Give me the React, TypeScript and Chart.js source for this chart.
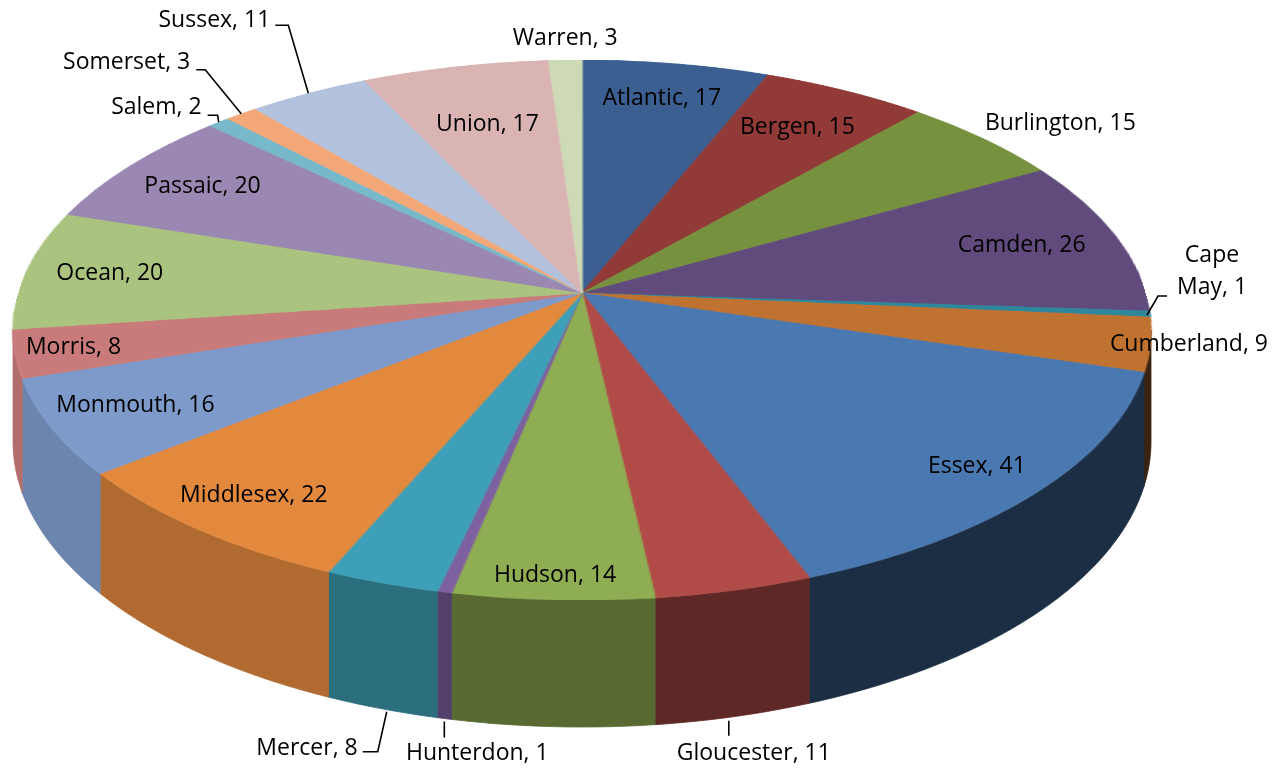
import React, { useEffect, useRef } from "react";
import { Chart, registerables } from "chart.js";

Chart.register(...registerables);

// ---------- data ----------
const counties = [
  "Atlantic", "Bergen", "Burlington", "Camden", "Cape May", "Cumberland", "Essex",
  "Gloucester", "Hudson", "Hunterdon", "Mercer", "Middlesex", "Monmouth", "Morris",
  "Ocean", "Passaic", "Salem", "Somerset", "Sussex", "Union", "Warren",
];
const counts = [17, 15, 15, 26, 1, 9, 41, 11, 14, 1, 8, 22, 16, 8, 20, 20, 2, 3, 11, 17, 3];
const sliceColors = [
  "#3B5F91", "#923A38", "#77923F", "#614A7C", "#2F879C", "#C07231", "#4A78B0",
  "#B14B48", "#8FAD52", "#7D60A0", "#3EA0B8", "#E3893E", "#7D9ACB", "#C87B7A",
  "#AAC47F", "#9A87B2", "#78B8CB", "#F4A877", "#B3C2DC", "#DAB3B3", "#CED9B5",
];

// ---------- layout (3D view) ----------
const VIEW = { cx: 582, apexY: 293, backY: 60, frontY: 600, halfWidth: 569, frontDepth: 127 };
const FONT = "23px 'Open Sans', Lato, sans-serif";

type LabelSpec =
  | { mode: "in"; r: number }
  | { mode: "out"; gapX: number; gapY: number }
  | {
      mode: "leader";
      from: "top" | "bottom";
      path: [number, number][];
      text: [number, number];
      align: CanvasTextAlign;
      wrap?: boolean;
    };

const labelSpecs: Record<string, LabelSpec> = {
  Atlantic: { mode: "in", r: 0.83 },
  Bergen: { mode: "in", r: 0.8 },
  Burlington: { mode: "out", gapX: 1, gapY: 4 },
  Camden: { mode: "in", r: 0.82 },
  "Cape May": { mode: "leader", from: "top", path: [[-3, 1], [8, -18], [17, -18]], text: [62, -43], align: "center", wrap: true },
  Cumberland: { mode: "out", gapX: 4, gapY: 0 },
  Essex: { mode: "in", r: 0.88 },
  Gloucester: { mode: "leader", from: "bottom", path: [[-5, 4], [-5, 19]], text: [20, 37], align: "center" },
  Hudson: { mode: "in", r: 0.93 },
  Hunterdon: { mode: "leader", from: "bottom", path: [[0, 3], [0, 19]], text: [33, 35], align: "center" },
  Mercer: { mode: "leader", from: "bottom", path: [[5, 3], [-4, 43], [-19, 43]], text: [-24, 40], align: "right" },
  Middlesex: { mode: "in", r: 0.87 },
  Monmouth: { mode: "in", r: 0.85 },
  Morris: { mode: "in", r: 0.9 },
  Ocean: { mode: "in", r: 0.85 },
  Passaic: { mode: "in", r: 0.83 },
  Salem: { mode: "leader", from: "top", path: [[0, 0], [-1, -7], [-11, -7]], text: [-17, -15], align: "right" },
  Somerset: { mode: "leader", from: "top", path: [[0, 0], [-36, -44], [-45, -44]], text: [-51, -51], align: "right" },
  Sussex: { mode: "leader", from: "top", path: [[0, 0], [-20, -68], [-33, -68]], text: [-38, -73], align: "right" },
  Union: { mode: "in", r: 0.72 },
  Warren: { mode: "out", gapX: 0, gapY: 10 },
};

// perspective projection of the unit disc onto the page
const pc = (2 * VIEW.apexY - VIEW.frontY - VIEW.backY) / (VIEW.frontY - VIEW.backY);
const pa = VIEW.frontY * (1 + pc) - VIEW.apexY;
const pd = VIEW.halfWidth * Math.sqrt(1 - pc * pc);
const depth0 = VIEW.frontDepth * (1 + pc);
const silhouette = Math.asin(-pc);

function proj(u: number, v: number) {
  const w = 1 + pc * v;
  return { x: VIEW.cx + (pd * u) / w, y: (pa * v + VIEW.apexY) / w, w };
}

function hexToRgb(h: string) {
  const n = parseInt(h.slice(1), 16);
  return [(n >> 16) & 255, (n >> 8) & 255, n & 255];
}
function shade(h: string, f: number) {
  const [r, g, b] = hexToRgb(h);
  return `rgb(${Math.round(r * f)},${Math.round(g * f)},${Math.round(b * f)})`;
}

const pie3d = {
  id: "pie3d",
  afterDatasetsDraw(chart: any) {
    const ctx: CanvasRenderingContext2D = chart.ctx;
    const W = chart.width;
    const meta = chart.getDatasetMeta(0);
    const els = meta.data;
    if (!els.length) return;
    const first = els[0];
    const x0 = first.x;
    const y0 = first.y;
    const R = first.outerRadius;

    // copy the flat pie drawn by Chart.js
    const off = document.createElement("canvas");
    off.width = chart.canvas.width;
    off.height = chart.canvas.height;
    const octx = off.getContext("2d")!;
    octx.drawImage(chart.canvas, 0, 0);

    ctx.save();
    ctx.setTransform(1, 0, 0, 1, 0, 0);
    ctx.clearRect(0, 0, chart.canvas.width, chart.canvas.height);
    ctx.restore();

    // side walls (visible between the two silhouette generators)
    ctx.save();
    els.forEach((el: any, i: number) => {
      const s = Math.max(el.startAngle, silhouette);
      const e = Math.min(el.endAngle, Math.PI - silhouette);
      if (e <= s) return;
      const midA = (s + e) / 2;
      const f = 0.6 - 0.3 * Math.cos(midA);
      const col = shade(sliceColors[i], f);
      const n = Math.max(2, Math.ceil((e - s) / 0.01));
      const top: { x: number; y: number; w: number }[] = [];
      for (let k = 0; k <= n; k++) {
        const ang = s + ((e - s) * k) / n;
        top.push(proj(Math.cos(ang), Math.sin(ang)));
      }
      ctx.beginPath();
      top.forEach((p, k) => (k ? ctx.lineTo(p.x, p.y) : ctx.moveTo(p.x, p.y)));
      for (let k = top.length - 1; k >= 0; k--) {
        const p = top[k];
        ctx.lineTo(p.x, p.y + depth0 / p.w);
      }
      ctx.closePath();
      ctx.fillStyle = col;
      ctx.strokeStyle = col;
      ctx.lineWidth = 0.8;
      ctx.fill();
      ctx.stroke();
    });
    ctx.restore();

    // top face: perspective warp, row by row
    ctx.save();
    ctx.imageSmoothingEnabled = true;
    for (let r = Math.floor(VIEW.backY) - 2; r <= Math.ceil(VIEW.frontY) + 2; r++) {
      const y = r + 0.5;
      const v = (y - VIEW.apexY) / (pa - pc * y);
      if (v < -1 || v > 1) continue;
      const w = 1 + pc * v;
      const half = pd / w;
      const sy = y0 + v * R - 0.5;
      ctx.drawImage(off, x0 - R, sy, 2 * R, 1, VIEW.cx - half, r, 2 * half, 1);
    }
    ctx.restore();

    // labels
    ctx.save();
    ctx.font = FONT;
    ctx.fillStyle = "#000";
    ctx.strokeStyle = "#000";
    ctx.lineWidth = 1.6;
    els.forEach((el: any, i: number) => {
      const name = chart.data.labels[i];
      const text = `${name}, ${chart.data.datasets[0].data[i]}`;
      const spec = labelSpecs[name];
      const mid = (el.startAngle + el.endAngle) / 2;
      const u = Math.cos(mid);
      const v = Math.sin(mid);
      if (!spec || spec.mode === "in") {
        const rr = spec ? spec.r : 0.8;
        const p = proj(rr * u, rr * v);
        ctx.textAlign = "center";
        ctx.textBaseline = "middle";
        ctx.fillText(text, p.x, p.y);
      } else if (spec.mode === "out") {
        const p = proj(u, v);
        const tw = ctx.measureText(text).width;
        let left: number;
        if (u > 0.3) left = p.x + spec.gapX;
        else if (u < -0.3) left = p.x - spec.gapX - tw;
        else left = p.x - tw / 2;
        if (left + tw > W - 6) left = W - 6 - tw;
        if (left < 6) left = 6;
        let y: number;
        ctx.textAlign = "left";
        if (v < -0.3) {
          ctx.textBaseline = "bottom";
          y = p.y - spec.gapY;
        } else if (v > 0.3) {
          ctx.textBaseline = "top";
          y = p.y + spec.gapY;
        } else {
          ctx.textBaseline = "middle";
          y = p.y;
        }
        ctx.fillText(text, left, y);
      } else {
        const p = proj(u, v);
        const ax = p.x;
        const ay = spec.from === "top" ? p.y : p.y + depth0 / p.w;
        ctx.beginPath();
        spec.path.forEach(([dx, dy], k) => {
          if (k) ctx.lineTo(ax + dx, ay + dy);
          else ctx.moveTo(ax + dx, ay + dy);
        });
        ctx.stroke();
        ctx.textAlign = spec.align;
        ctx.textBaseline = "middle";
        const tx = ax + spec.text[0];
        const ty = ay + spec.text[1];
        if (spec.wrap) {
          const cut = text.indexOf(" ");
          const lines = [text.slice(0, cut), text.slice(cut + 1)];
          ctx.fillText(lines[0], tx, ty - 16);
          ctx.fillText(lines[1], tx, ty + 16);
        } else {
          ctx.fillText(text, tx, ty);
        }
      }
    });
    ctx.restore();
  },
};

export default function App() {
  const ref = useRef<HTMLCanvasElement | null>(null);
  useEffect(() => {
    document.body.style.margin = "0";
    document.body.style.background = "#ffffff";
    const canvas = ref.current;
    if (!canvas) return;
    const chart = new Chart(canvas, {
      type: "pie",
      data: {
        labels: counties,
        datasets: [
          {
            data: counts,
            backgroundColor: sliceColors,
            borderColor: sliceColors,
            borderWidth: 1,
            clip: false as any,
          },
        ],
      },
      options: {
        responsive: false,
        animation: false,
        rotation: 0,
        layout: { padding: 0 },
        plugins: {
          legend: { display: false },
          tooltip: { enabled: false },
        },
        events: [],
      },
      plugins: [pie3d],
    });
    return () => chart.destroy();
  }, []);
  return (
    <div style={{ width: 1274, height: 770, background: "#fff" }}>
      <canvas ref={ref} width={1274} height={770} style={{ display: "block" }} />
    </div>
  );
}
